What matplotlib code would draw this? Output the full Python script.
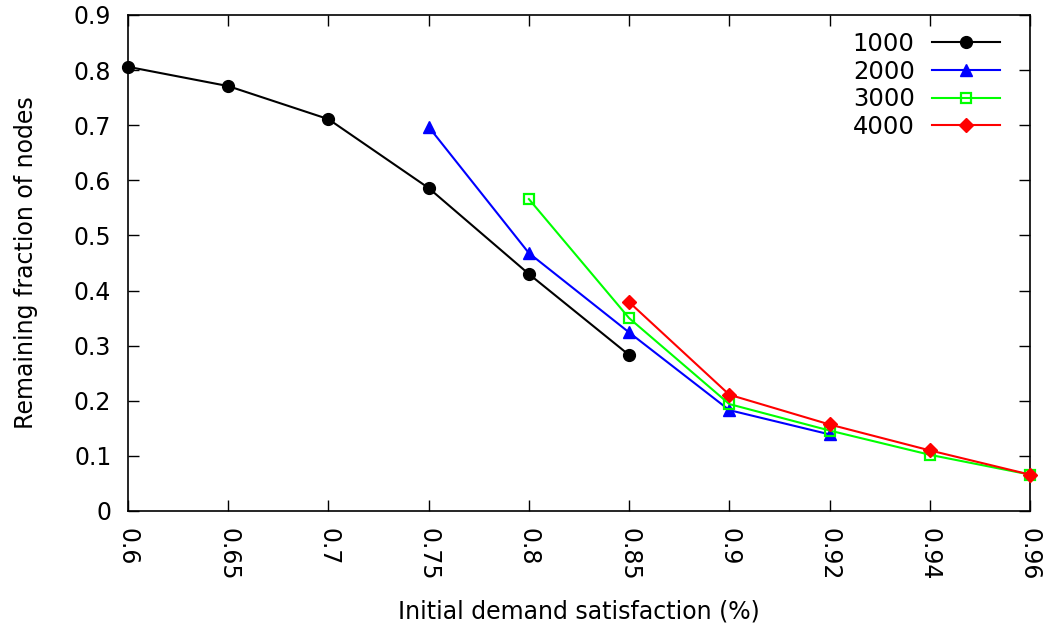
import matplotlib
matplotlib.use("Agg")
import matplotlib.pyplot as plt
import numpy as np

categories = ["0.6", "0.65", "0.7", "0.75", "0.8", "0.85", "0.9", "0.92", "0.94", "0.96"]

# Series values per category (None where a series has no measurement)
s1000 = [0.806, 0.771, 0.711, 0.586, 0.430, 0.283, None, None, None, None]
s2000 = [None, None, None, 0.697, 0.468, 0.324, 0.183, 0.139, None, None]
s3000 = [None, None, None, None, 0.566, 0.350, 0.194, 0.146, 0.102, 0.066]
s4000 = [None, None, None, None, None, 0.379, 0.211, 0.157, 0.110, 0.066]

series = [
    ("1000", s1000, "black", "o", dict(markersize=8.5)),
    ("2000", s2000, "#0000ff", "^", dict(markersize=8.5)),
    ("3000", s3000, "#00ff00", "s", dict(markersize=7, markerfacecolor="none", markeredgewidth=1.6)),
    ("4000", s4000, "#ff0000", "D", dict(markersize=7)),
]

fs = 17

fig = plt.figure(figsize=(10.45, 6.32), dpi=100)
ax = fig.add_axes([128 / 1045, 1 - 511 / 632, (1030 - 128) / 1045, (511 - 15) / 632])

x = np.arange(len(categories))
for label, vals, color, marker, kw in series:
    idx = [i for i, v in enumerate(vals) if v is not None]
    ax.plot(x[idx], [vals[i] for i in idx], color=color, marker=marker, lw=1.5,
            label=label, clip_on=False, zorder=3, **kw)

ax.set_xlim(0, len(categories) - 1)
ax.set_ylim(0, 0.9)
ax.set_xticks(x)
ax.set_xticklabels(categories, rotation=-90, fontsize=fs)
ax.set_yticks(np.arange(0, 0.91, 0.1))
ax.set_yticklabels(["0"] + [f"{v:.1f}" for v in np.arange(0.1, 0.91, 0.1)], fontsize=fs)
ax.tick_params(direction="in", length=8, width=1, top=True, right=True)
ax.tick_params(axis="x", pad=12)
ax.tick_params(axis="y", pad=12)
for sp in ax.spines.values():
    sp.set_linewidth(1.2)

ax.set_xlabel("Initial demand satisfaction (%)", fontsize=fs, labelpad=14)
ax.set_ylabel("Remaining fraction of nodes", fontsize=fs, labelpad=26)

ax.legend(loc="upper right", frameon=False, markerfirst=False, fontsize=fs + 0.5,
          handlelength=2.8, handletextpad=0.7, labelspacing=0.15,
          borderaxespad=0.4, bbox_to_anchor=(0.988, 1.005))

fig.savefig("out.png", dpi=100)
